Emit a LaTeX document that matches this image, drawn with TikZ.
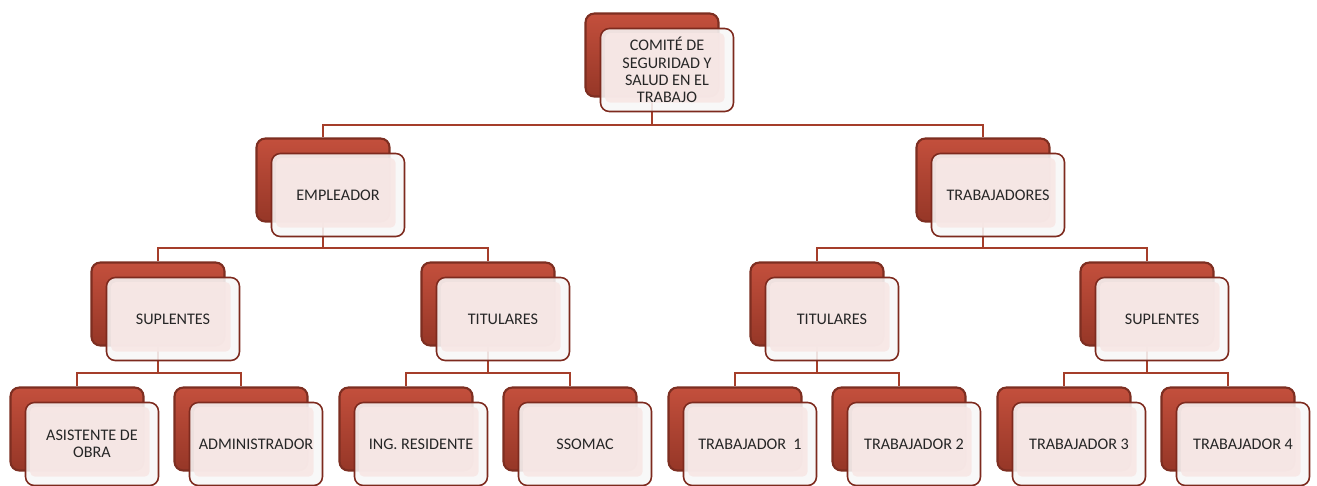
\documentclass[tikz,border=0pt]{standalone}
\usepackage{fontspec}
\setmainfont{Carlito}
\usepackage{tikz}
\usetikzlibrary{positioning,calc,backgrounds}
\definecolor{fondocolor}{RGB}{192,70,50}
\definecolor{bordecolor}{RGB}{125,42,30}
\definecolor{rosacolor}{RGB}{247,231,229}
\definecolor{lineacolor}{RGB}{165,62,42}
\tikzset{
  caja atras/.style={
    rectangle,
    rounded corners=5pt,
    draw=fondocolor!65!black,
    line width=1.2pt,
    top color=fondocolor!95!white,
    bottom color=fondocolor!78!black,
    minimum width=2.66cm,
    minimum height=1.66cm
  },
  caja frente/.style={
    rectangle,
    rounded corners=5pt,
    draw=bordecolor,
    line width=0.9pt,
    fill=gray!6,
    fill opacity=0.88,
    text opacity=1,
    minimum width=2.66cm,
    minimum height=1.66cm,
    align=center,
    text=black!85,
    font=\fontsize{9.2}{9.9}\selectfont,
    path picture={
      \fill[rosacolor, rounded corners=3pt]
        ([shift={(2.5pt,-2.5pt)}]path picture bounding box.north west)
        rectangle ([shift={(-5pt,5pt)}]path picture bounding box.south east);
    }
  },
  linea/.style={
    draw=lineacolor,
    line width=1.1pt
  }
}
% unidad: fondo rojo + tarjeta clara desplazada
\newcommand{\cargo}[4]{%
  \node[caja atras] (b-#1) at (#2,#3) {};
  \node[caja frente] (#1) at ($(b-#1)+(15,15)$) {#4};
}
\begin{document}
\begin{tikzpicture}[x=0.02cm, y=-0.02cm]
  \useasboundingbox (0,0) rectangle (1317,485);

  % barras horizontales
  \coordinate (bus1) at (0,125);
  \coordinate (bus2) at (0,248);
  \coordinate (bus3) at (0,373);

  % Comite
  \cargo{comite}{652}{55}{COMITÉ DE\\SEGURIDAD Y\\SALUD EN EL\\TRABAJO}

  % Nivel 2
  \cargo{emp}{323}{180}{EMPLEADOR}
  \cargo{trab}{983}{180}{TRABAJADORES}

  % Nivel 3
  \cargo{sup-e}{158}{304}{SUPLENTES}
  \cargo{tit-e}{488}{304}{TITULARES}
  \cargo{tit-t}{817}{304}{TITULARES}
  \cargo{sup-t}{1147}{304}{SUPLENTES}

  % Nivel 4
  \cargo{asis}{77}{429}{ASISTENTE DE\\OBRA}
  \cargo{adm}{241}{429}{ADMINISTRADOR}
  \cargo{ing}{406}{429}{ING. RESIDENTE}
  \cargo{ssomac}{570}{429}{SSOMAC}
  \cargo{t1}{735}{429}{TRABAJADOR~~1}
  \cargo{t2}{899}{429}{TRABAJADOR 2}
  \cargo{t3}{1064}{429}{TRABAJADOR 3}
  \cargo{t4}{1228}{429}{TRABAJADOR 4}

  % Conexiones (detras de las cajas)
  \begin{scope}[on background layer]
    \draw[linea] (b-comite.center) -- (b-comite.center |- bus1) -| (b-emp.north);
    \draw[linea] (b-comite.center |- bus1) -| (b-trab.north);

    \draw[linea] (b-emp.center) -- (b-emp.center |- bus2) -| (b-sup-e.north);
    \draw[linea] (b-emp.center |- bus2) -| (b-tit-e.north);
    \draw[linea] (b-trab.center) -- (b-trab.center |- bus2) -| (b-tit-t.north);
    \draw[linea] (b-trab.center |- bus2) -| (b-sup-t.north);

    \draw[linea] (b-sup-e.center) -- (b-sup-e.center |- bus3) -| (b-asis.north);
    \draw[linea] (b-sup-e.center |- bus3) -| (b-adm.north);
    \draw[linea] (b-tit-e.center) -- (b-tit-e.center |- bus3) -| (b-ing.north);
    \draw[linea] (b-tit-e.center |- bus3) -| (b-ssomac.north);
    \draw[linea] (b-tit-t.center) -- (b-tit-t.center |- bus3) -| (b-t1.north);
    \draw[linea] (b-tit-t.center |- bus3) -| (b-t2.north);
    \draw[linea] (b-sup-t.center) -- (b-sup-t.center |- bus3) -| (b-t3.north);
    \draw[linea] (b-sup-t.center |- bus3) -| (b-t4.north);
  \end{scope}
\end{tikzpicture}
\end{document}
